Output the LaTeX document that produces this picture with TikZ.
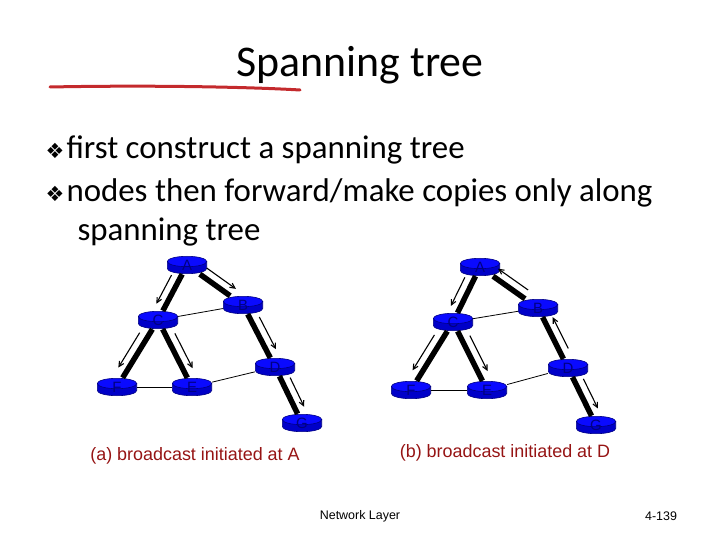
\documentclass[tikz,border=0pt]{standalone}
\usepackage{fontspec}
\setmainfont{Carlito}
\newfontfamily\arialfont{Liberation Sans}
\newfontfamily\symfont{DejaVu Sans}
\usepackage{tikz}
\usetikzlibrary{arrows.meta,calc}
\definecolor{penred}{RGB}{196,42,45}
\definecolor{capred}{RGB}{150,20,20}
\definecolor{routertop}{RGB}{10,10,255}
\definecolor{routerside}{RGB}{0,0,200}
\definecolor{routerline}{RGB}{0,0,130}

% thin arrow running beside a tree edge
\newcommand{\sendalong}[3]{\draw[flow] ($(#1)!0.26!(#2)!9bp!#3:(#2)$) -- ($(#1)!0.78!(#2)!9bp!#3:(#2)$);}
\newcommand{\diam}{\makebox[21bp][l]{\symfont\fontsize{21}{21}\selectfont ❖}}

\begin{document}
\begin{tikzpicture}
[x=1bp,y=-1bp,
router/.style={rectangle, minimum width=40bp, minimum height=18bp, inner sep=0pt,
  text=routerline, font=\arialfont\fontsize{15}{15}\selectfont,
  path picture={
    \coordinate (sw) at (path picture bounding box.south west);
    \coordinate (ne) at (path picture bounding box.north east);
    \filldraw[fill=routerside, draw=routerline, line width=0.6bp] let \p1=(sw), \p2=(ne) in
      (\x1+0.3bp,\y2-5.5bp) -- (\x1+0.3bp,\y1+5.5bp) arc[start angle=180, end angle=360, x radius=(\x2-\x1)/2-0.3bp, y radius=5.2bp]
      -- (\x2-0.3bp,\y2-5.5bp) -- cycle;
    \filldraw[fill=routertop, draw=routerline, line width=0.6bp] let \p1=(sw), \p2=(ne) in
      ({(\x1+\x2)/2},\y2-5.5bp) ellipse[x radius=(\x2-\x1)/2-0.3bp, y radius=5.2bp];
  }},
tree/.style={line width=5.5bp},
link/.style={line width=0.8bp},
flow/.style={line width=1.1bp, -{Straight Barb[length=5bp,width=5bp]}},
caption/.style={text=capred, font=\arialfont\fontsize{18}{18}\selectfont},
bullet/.style={anchor=base west, font=\fontsize{33}{33}\selectfont}]
\useasboundingbox (0,0) rectangle (720,540);

\node (title) at (360,65) {\fontsize{44}{44}\selectfont Spanning tree};
\draw[penred, line width=3bp, line cap=round] (50,87) .. controls (150,85) and (250,87) .. (300,90);

\node[bullet] (item1) at (42,159) {\diam first construct a spanning tree};
\node[bullet] (item2) at (42,202) {\diam nodes then forward/make copies only along};
\node[bullet] (item3) at (74,241) {spanning tree};

% (a) broadcast initiated at A
\node[router] (aA) at (187,265) {A};
\node[router] (aB) at (243,305) {B};
\node[router] (aC) at (158,320) {C};
\node[router] (aD) at (275,367) {D};
\node[router] (aF) at (117,387) {F};
\node[router] (aE) at (192,387) {E};
\node[router] (aG) at (302,423) {G};
\draw[tree] (aA) -- (aC);
\draw[tree] (aA) -- (aB);
\draw[tree] (aC) -- (aF);
\draw[tree] (aC) -- (aE);
\draw[tree] (aB) -- (aD);
\draw[tree] (aD) -- (aG);
\draw[link] (aC) -- (aB);
\draw[link] (aF) -- (aE);
\draw[link] (aE) -- (aD);
\sendalong{aA}{aC}{-90}
\sendalong{aA}{aB}{90}
\sendalong{aC}{aF}{-90}
\sendalong{aC}{aE}{90}
\sendalong{aB}{aD}{90}
\sendalong{aD}{aG}{90}

% (b) broadcast initiated at D
\node[router] (bA) at (480,267) {A};
\node[router] (bB) at (538,308) {B};
\node[router] (bC) at (453,322) {C};
\node[router] (bD) at (568,368) {D};
\node[router] (bF) at (411,390) {F};
\node[router] (bE) at (487,390) {E};
\node[router] (bG) at (596,425) {G};
\draw[tree] (bA) -- (bC);
\draw[tree] (bA) -- (bB);
\draw[tree] (bC) -- (bF);
\draw[tree] (bC) -- (bE);
\draw[tree] (bB) -- (bD);
\draw[tree] (bD) -- (bG);
\draw[link] (bC) -- (bB);
\draw[link] (bF) -- (bE);
\draw[link] (bE) -- (bD);
\sendalong{bA}{bC}{-90}
\sendalong{bB}{bA}{-90}
\sendalong{bC}{bF}{-90}
\sendalong{bC}{bE}{90}
\sendalong{bD}{bB}{-90}
\sendalong{bD}{bG}{90}

\node[caption] (capa) at (195,456) {(a) broadcast initiated at A};
\node[caption] (capb) at (505,453) {(b) broadcast initiated at D};

\node[font=\arialfont\fontsize{12.5}{12.5}\selectfont] (footer) at (360,516) {Network Layer};
\node[font=\arialfont\fontsize{12.5}{12.5}\selectfont] (page) at (661,516) {4-139};
\end{tikzpicture}
\end{document}
